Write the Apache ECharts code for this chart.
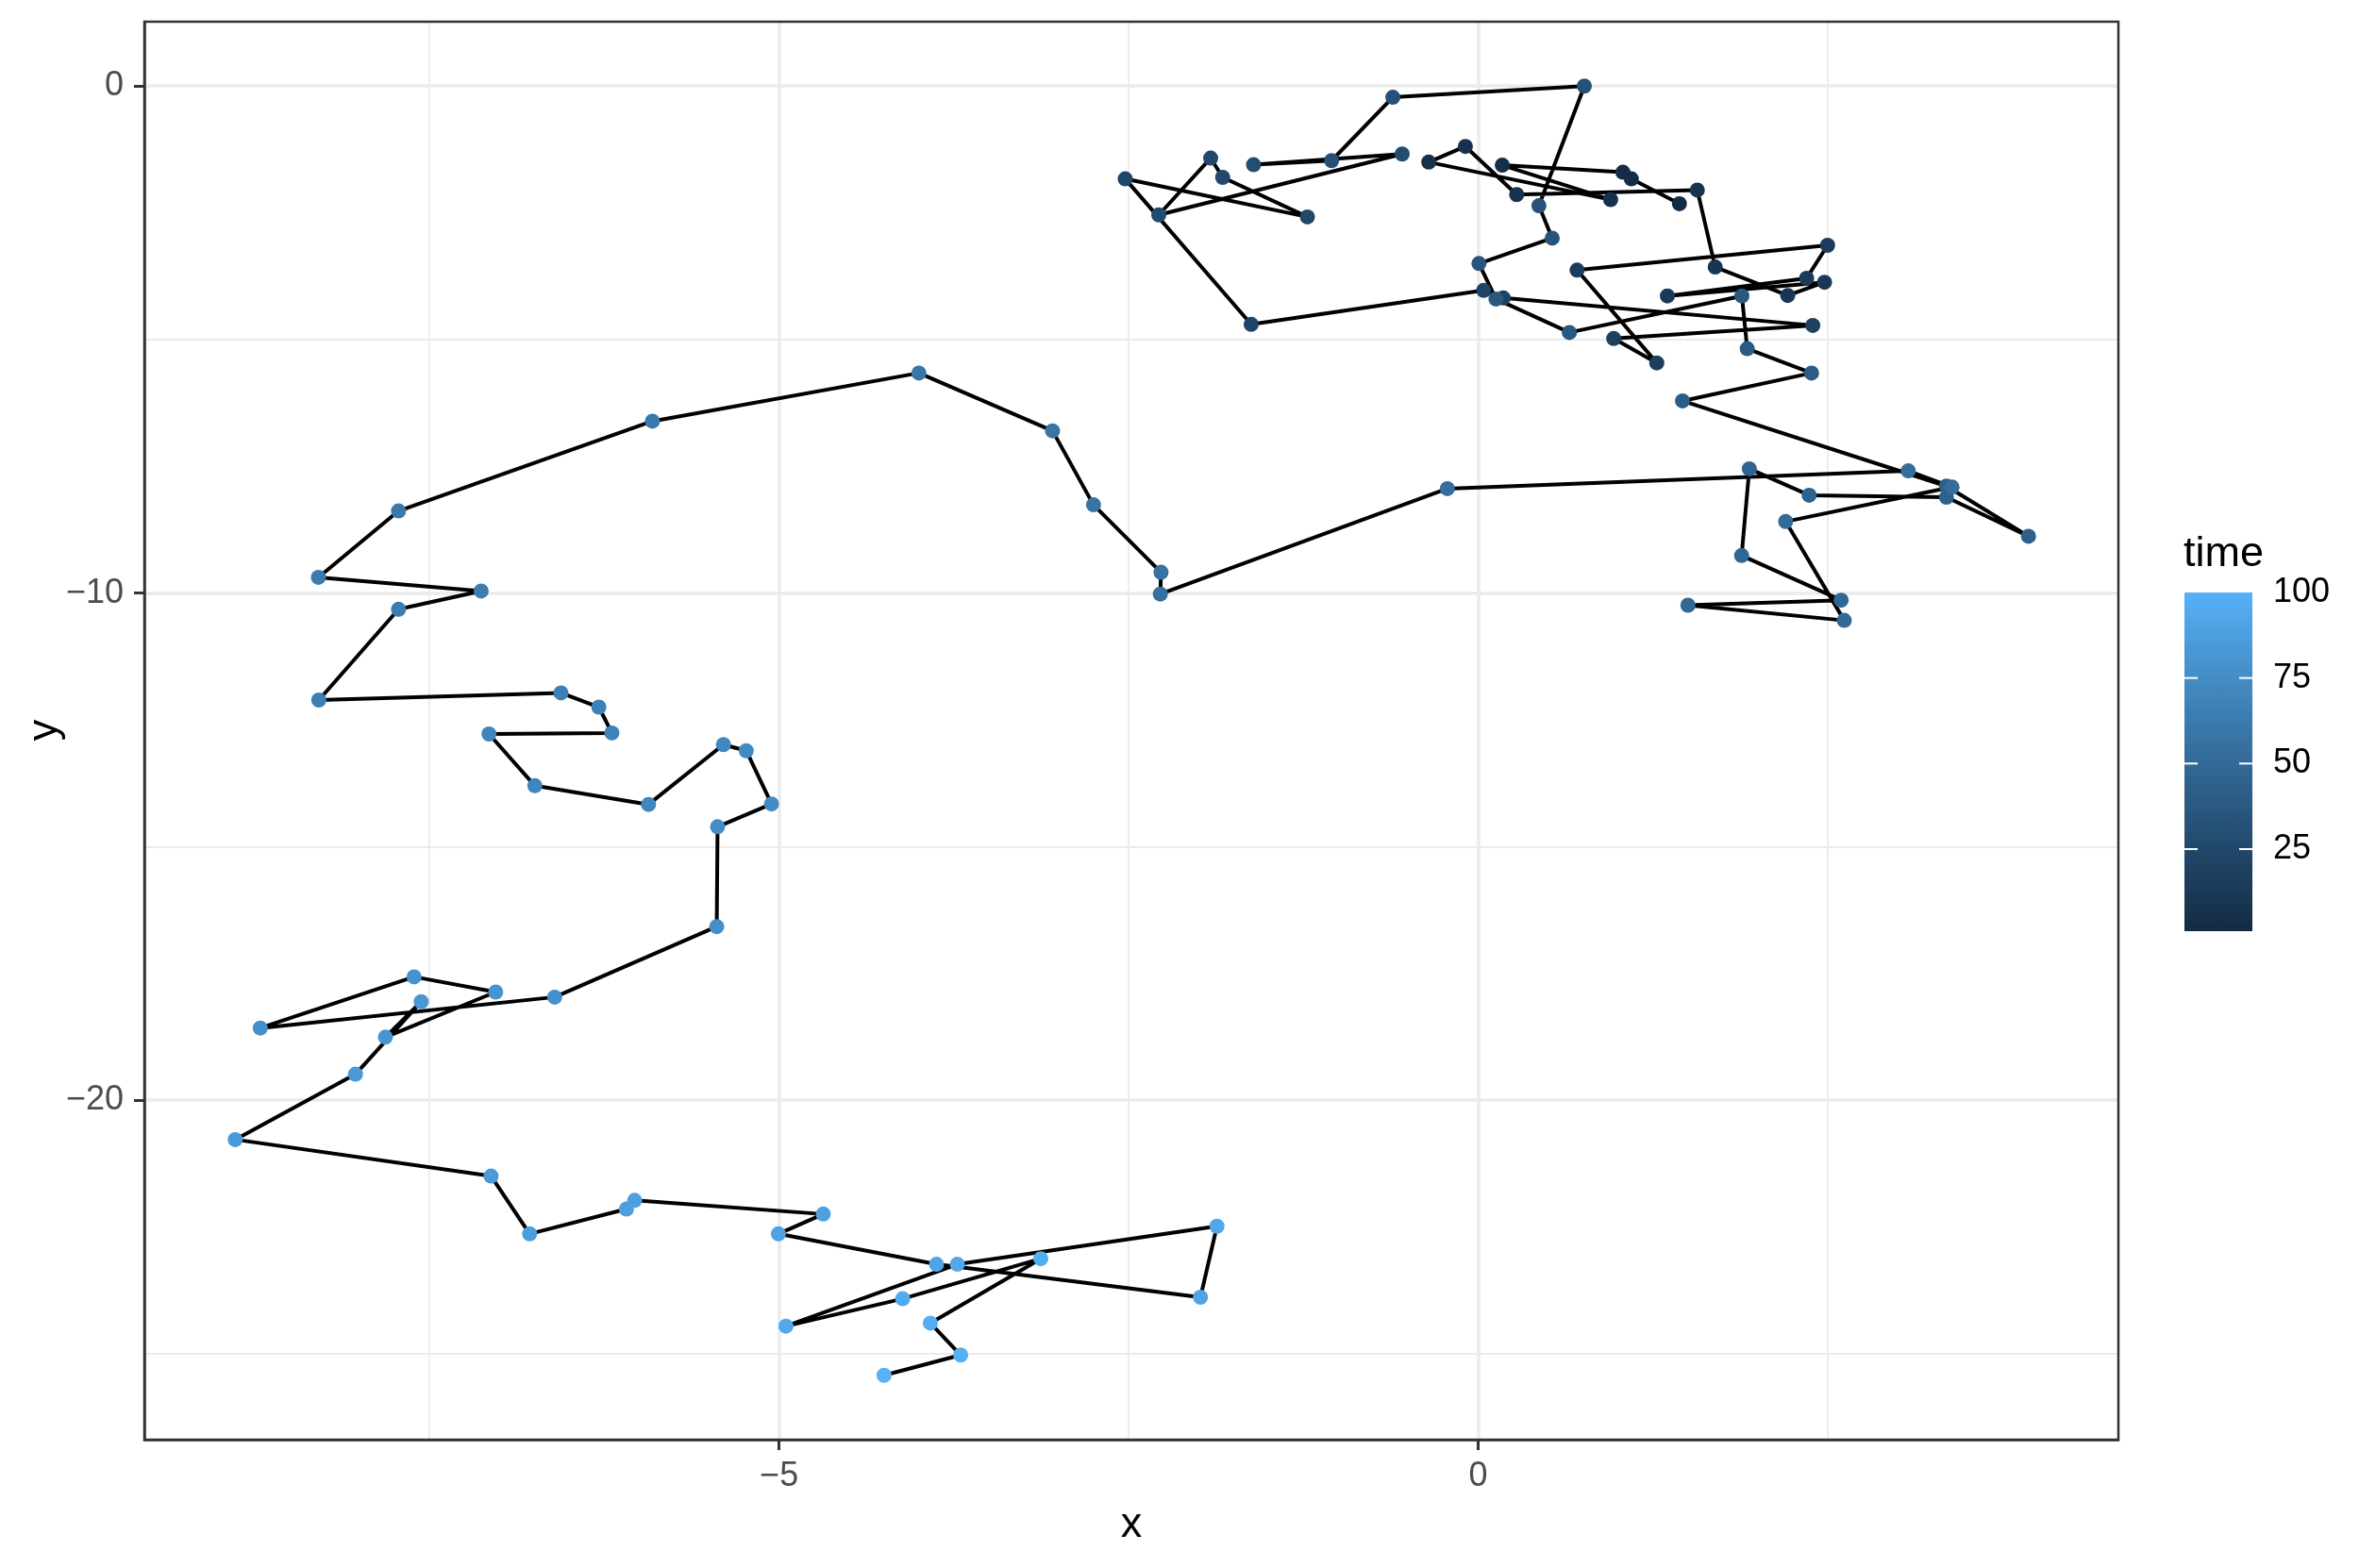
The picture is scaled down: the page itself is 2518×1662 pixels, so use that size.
<!DOCTYPE html>
<html>
<head>
<meta charset="utf-8">
<script src="https://cdn.jsdelivr.net/npm/echarts@6/dist/echarts.min.js"></script>
<style>html,body{margin:0;padding:0;background:#fff}#c{width:2518px;height:1662px}</style>
</head>
<body>
<div id="c"></div>
<script>
// path coordinates in time order
var xVals = [1.44,1.096,1.036,0.173,0.948,-0.353,-0.091,0.276,1.568,1.696,
2.215,2.478,1.354,2.35,2.5,0.708,1.278,0.97,2.394,0.18,
0.04,-1.623,-2.524,-1.221,-1.827,-1.913,-2.284,-0.543,-1.606,-1.048,
-0.61,0.76,0.435,0.53,0.006,0.128,0.653,1.887,1.925,2.385,
1.462,3.35,3.937,3.35,2.368,1.94,1.885,2.597,1.501,2.619,
2.2,3.39,3.077,-0.22,-2.273,-2.268,-2.751,-3.044,-4.0,-5.906,
-7.722,-8.295,-7.131,-7.722,-8.292,-6.56,-6.289,-6.196,-7.075,-6.747,
-5.934,-5.398,-5.235,-5.054,-5.44,-5.446,-6.605,-8.711,-7.611,-7.027,
-7.816,-7.56,-8.03,-8.89,-7.06,-6.784,-6.092,-6.033,-4.684,-5.005,
-3.874,-1.986,-1.868,-3.725,-4.951,-4.116,-3.128,-3.918,-3.701,-4.249];
var yVals = [-2.32,-1.83,-1.70,-1.56,-2.24,-1.50,-1.19,-2.14,-2.05,-3.57,
-4.13,-3.87,-4.14,-3.79,-3.14,-3.63,-5.46,-4.98,-4.72,-4.18,
-4.03,-4.70,-1.83,-2.58,-1.80,-1.42,-2.54,-1.34,-1.55,-1.47,
-0.22,0.0,-2.36,-3.0,-3.50,-4.20,-4.86,-4.14,-5.18,-5.66,
-6.21,-7.89,-8.88,-8.11,-8.07,-7.55,-9.26,-10.14,-10.24,-10.54,
-8.59,-7.91,-7.59,-7.94,-10.02,-9.59,-8.26,-6.80,-5.66,-6.61,
-8.38,-9.69,-9.96,-10.32,-12.11,-11.97,-12.25,-12.76,-12.78,-13.80,
-14.17,-12.99,-13.11,-14.16,-14.61,-16.58,-17.97,-18.58,-17.57,-17.87,
-18.76,-18.06,-19.49,-20.78,-21.50,-22.64,-22.15,-21.98,-22.25,-22.64,
-23.24,-23.89,-22.49,-23.24,-24.46,-23.92,-23.13,-24.40,-25.03,-25.43];
var timeVals = [1,2,3,4,5,6,7,8,9,10,11,12,13,14,15,16,17,18,19,20,
21,22,23,24,25,26,27,28,29,30,31,32,33,34,35,36,37,38,39,40,
41,42,43,44,45,46,47,48,49,50,51,52,53,54,55,56,57,58,59,60,
61,62,63,64,65,66,67,68,69,70,71,72,73,74,75,76,77,78,79,80,
81,82,83,84,85,86,87,88,89,90,91,92,93,94,95,96,97,98,99,100];
var xTicks = [-5, 0];
var yTicks = [0, -10, -20];
var xMinor = [-7.5, -2.5, 2.5];
var yMinor = [-5, -15, -25];
var legendTicks = [25, 50, 75, 100];

var palette = ['#132B43', '#22496C', '#336A98', '#448DC6', '#56B1F7'];
var FONT = '"Liberation Sans", Arial, sans-serif';
function fmtMinus(v) { return String(v).replace('-', '\u2212'); }

var pathData = xVals.map(function (x, i) { return [x, yVals[i]]; });
var pointData = xVals.map(function (x, i) { return [x, yVals[i], timeVals[i]]; });

var gridL = 153, gridT = 23, gridW = 2092, gridH = 1503;

var gridLines = [];
xTicks.forEach(function (v) { gridLines.push({ xAxis: v, lineStyle: { width: 3.5 } }); });
xMinor.forEach(function (v) { gridLines.push({ xAxis: v, lineStyle: { width: 1.8 } }); });
yTicks.forEach(function (v) { gridLines.push({ yAxis: v, lineStyle: { width: 3.5 } }); });
yMinor.forEach(function (v) { gridLines.push({ yAxis: v, lineStyle: { width: 1.8 } }); });

// legend (colour bar) geometry
var barX = 2315, barTop = 628, barW = 72, barH = 359;
function barY(v) { return barTop + barH - (v - 1) / 99 * barH; }
var legendEls = [];
legendEls.push({
  type: 'rect', shape: { x: barX, y: barTop, width: barW, height: barH },
  style: { fill: new echarts.graphic.LinearGradient(0, 1, 0, 0, [
    { offset: 0, color: palette[0] }, { offset: 0.25, color: palette[1] },
    { offset: 0.5, color: palette[2] }, { offset: 0.75, color: palette[3] },
    { offset: 1, color: palette[4] }]) }, z: 10
});
legendTicks.forEach(function (v) {
  var y = barY(v);
  if (v < 100) {
    legendEls.push({ type: 'line', shape: { x1: barX, y1: y, x2: barX + 14, y2: y }, style: { stroke: '#fff', lineWidth: 2 }, z: 11 });
    legendEls.push({ type: 'line', shape: { x1: barX + barW - 14, y1: y, x2: barX + barW, y2: y }, style: { stroke: '#fff', lineWidth: 2 }, z: 11 });
  }
  legendEls.push({ type: 'text', x: 2409, y: y, style: { text: String(v), font: '36px ' + FONT, fill: '#000', textAlign: 'left', textVerticalAlign: 'middle' }, z: 11 });
});
legendEls.push({ type: 'text', x: 2314, y: 588, style: { text: 'time', font: '45px ' + FONT, fill: '#000', textAlign: 'left', textVerticalAlign: 'middle' }, z: 11 });
legendEls.push({ type: 'text', x: 1199, y: 1617, style: { text: 'x', font: '45px ' + FONT, fill: '#000', textAlign: 'center', textVerticalAlign: 'middle' }, z: 11 });
legendEls.push({ type: 'text', x: 48, y: 774, rotation: Math.PI / 2, style: { text: 'y', font: '45px ' + FONT, fill: '#000', textAlign: 'center', textVerticalAlign: 'middle' }, z: 11 });

var chart = echarts.init(document.getElementById('c'), null, { renderer: 'canvas' });
chart.setOption({
  animation: false,
  backgroundColor: '#ffffff',
  grid: { left: gridL, top: gridT, width: gridW, height: gridH, show: true, borderColor: '#333333', borderWidth: 2.5, backgroundColor: 'transparent', containLabel: false, outerBoundsMode: 'none', z: 8 },
  xAxis: {
    type: 'value', min: -9.54, max: 4.58, z: 8,
    axisLine: { show: true, onZero: false, lineStyle: { color: '#333333', width: 2.5 } },
    splitLine: { show: false },
    axisTick: { show: true, inside: false, customValues: xTicks, length: 11, lineStyle: { color: '#333333', width: 3 } },
    axisLabel: { customValues: xTicks, margin: 21, color: '#4D4D4D', fontSize: 36, fontFamily: FONT, formatter: fmtMinus }
  },
  yAxis: {
    type: 'value', min: -26.7, max: 1.27, z: 8,
    axisLine: { show: true, onZero: false, lineStyle: { color: '#333333', width: 2.5 } },
    splitLine: { show: false },
    axisTick: { show: true, inside: false, customValues: yTicks, length: 11, lineStyle: { color: '#333333', width: 3 } },
    axisLabel: { customValues: yTicks, margin: 22, color: '#4D4D4D', fontSize: 36, fontFamily: FONT, formatter: fmtMinus }
  },
  visualMap: {
    show: false, type: 'continuous', min: 1, max: 100, dimension: 2, seriesIndex: 2,
    inRange: { color: palette }
  },
  graphic: legendEls,
  series: [
    { type: 'line', data: [], z: 1, silent: true,
      markLine: { z: 1, silent: true, symbol: ['none', 'none'], label: { show: false }, animation: false,
        lineStyle: { color: '#EBEBEB', type: 'solid' }, emphasis: { disabled: true }, data: gridLines } },
    { type: 'line', data: pathData, z: 3, showSymbol: false, symbol: 'none', silent: true,
      lineStyle: { color: '#000000', width: 4, join: 'round' } },
    { type: 'scatter', data: pointData, z: 4, symbolSize: 16, silent: true,
      itemStyle: { opacity: 1 } }
  ]
});
</script>
</body>
</html>
